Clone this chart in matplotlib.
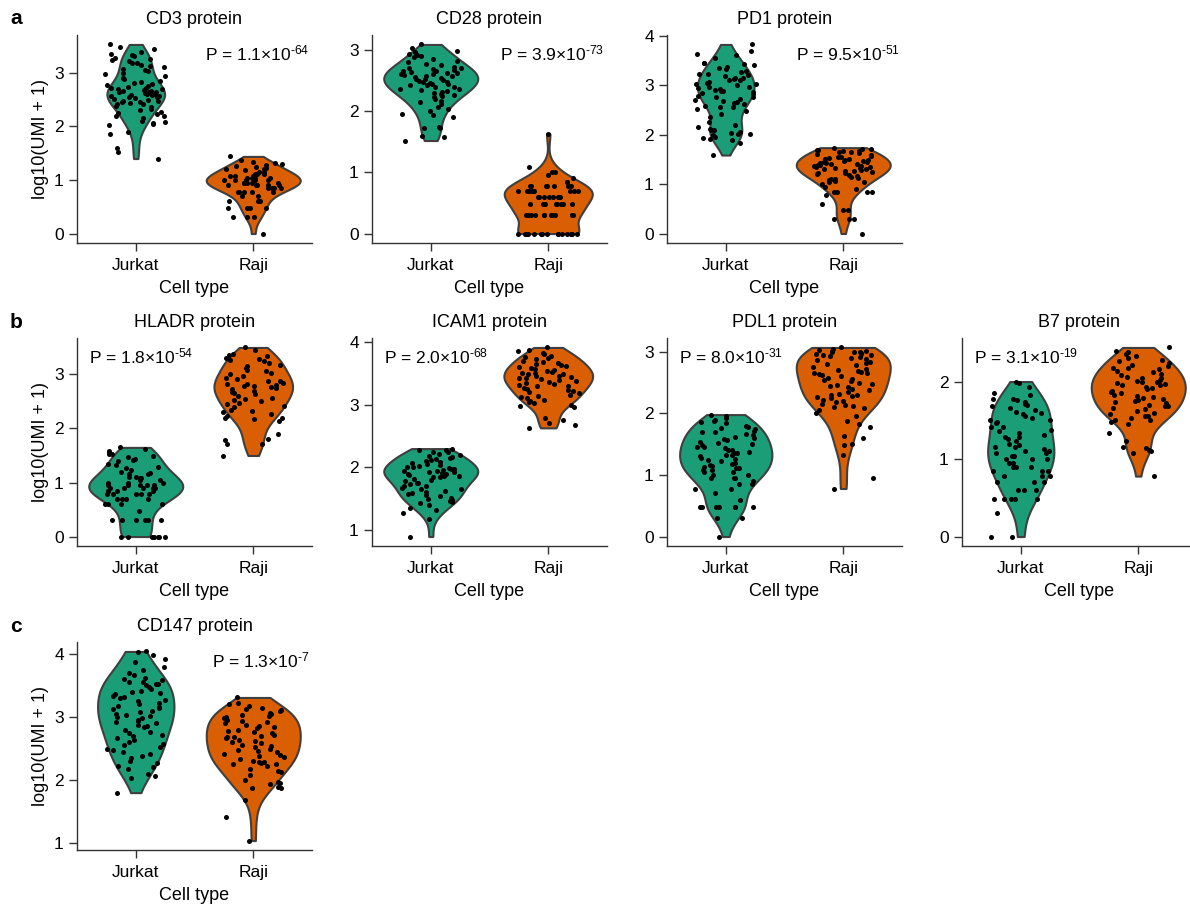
import numpy as np
import matplotlib.pyplot as plt
from matplotlib.ticker import MultipleLocator

plt.rcParams['font.family'] = ['Liberation Sans', 'DejaVu Sans']
plt.rcParams['mathtext.fontset'] = 'custom'
plt.rcParams['mathtext.rm'] = 'Liberation Sans'
plt.rcParams['mathtext.default'] = 'regular'
plt.rcParams['font.size'] = 12.5

cell_types = ['Jurkat', 'Raji']
colors = ['#1b9e77', '#d95f02']

# log10(UMI + 1) values, one list per protein / cell type
cd3_jurkat = [3.53, 3.48, 3.45, 3.38, 3.36, 3.33, 3.31, 3.28, 3.25, 3.24, 3.22, 3.19, 3.19,
              3.15, 3.13, 3.10, 3.08, 3.06, 3.03, 3.00, 2.97, 2.94, 2.91, 2.88, 2.85, 2.83,
              2.81, 2.80, 2.78, 2.76, 2.74, 2.72, 2.71, 2.70, 2.70, 2.68, 2.67, 2.66, 2.65,
              2.64, 2.64, 2.62, 2.61, 2.60, 2.59, 2.58, 2.57, 2.56, 2.55, 2.54, 2.53, 2.51,
              2.49, 2.48, 2.47, 2.45, 2.45, 2.43, 2.42, 2.41, 2.39, 2.36, 2.33, 2.30, 2.27,
              2.25, 2.23, 2.20, 2.19, 2.16, 2.11, 2.08, 2.06, 2.04, 2.02, 1.90, 1.85, 1.59,
              1.52, 1.40]
cd3_raji = [1.44, 1.38, 1.34, 1.32, 1.30, 1.28, 1.26, 1.25, 1.23, 1.20, 1.20, 1.18, 1.15,
            1.15, 1.11, 1.11, 1.11, 1.08, 1.08, 1.08, 1.04, 1.04, 1.04, 1.04, 1.00, 1.00,
            1.00, 1.00, 1.00, 1.00, 0.95, 0.95, 0.95, 0.95, 0.95, 0.90, 0.90, 0.90, 0.90,
            0.90, 0.85, 0.85, 0.85, 0.85, 0.78, 0.78, 0.78, 0.78, 0.78, 0.70, 0.70, 0.60,
            0.60, 0.60, 0.48, 0.48, 0.48, 0.48, 0.30, 0.30, 0.30, 0.00]

cd28_jurkat = [3.09, 3.04, 2.98, 2.96, 2.94, 2.92, 2.90, 2.88, 2.85, 2.82, 2.80, 2.77, 2.75,
               2.72, 2.71, 2.70, 2.69, 2.68, 2.66, 2.65, 2.64, 2.63, 2.62, 2.61, 2.60, 2.59,
               2.58, 2.57, 2.55, 2.54, 2.53, 2.52, 2.51, 2.50, 2.48, 2.47, 2.46, 2.45, 2.44,
               2.43, 2.42, 2.40, 2.39, 2.37, 2.36, 2.34, 2.33, 2.31, 2.30, 2.28, 2.26, 2.25,
               2.23, 2.20, 2.17, 2.15, 2.12, 2.06, 2.04, 2.01, 1.96, 1.93, 1.90, 1.74, 1.73,
               1.72, 1.60, 1.58, 1.52]
cd28_raji = [0.00] * 16 + [0.30] * 12 + [0.48] * 8 + [0.60] * 8 + [0.70] * 8 + \
            [0.78] * 7 + [0.85] * 2 + [0.90, 0.95, 1.00, 1.00, 1.08, 1.63]

pd1_jurkat = [3.83, 3.69, 3.64, 3.61, 3.56, 3.46, 3.45, 3.43, 3.41, 3.38, 3.36, 3.33, 3.30,
              3.28, 3.24, 3.23, 3.21, 3.20, 3.16, 3.15, 3.13, 3.11, 3.10, 3.06, 3.05, 3.03,
              3.02, 3.00, 2.97, 2.96, 2.95, 2.93, 2.91, 2.89, 2.88, 2.86, 2.85, 2.83, 2.79,
              2.77, 2.76, 2.73, 2.71, 2.69, 2.66, 2.64, 2.63, 2.59, 2.57, 2.56, 2.53, 2.49,
              2.43, 2.36, 2.26, 2.19, 2.16, 2.12, 2.10, 2.09, 2.06, 2.04, 2.02, 2.01,
              1.99, 1.96, 1.94, 1.92, 1.89, 1.84, 1.59]
pd1_raji = [1.74, 1.72, 1.71, 1.70, 1.70, 1.68, 1.67, 1.66, 1.65, 1.63, 1.62, 1.60, 1.58,
            1.56, 1.55, 1.53, 1.52, 1.50, 1.49, 1.48, 1.47, 1.46, 1.45, 1.44, 1.43, 1.42,
            1.41, 1.40, 1.39, 1.38, 1.37, 1.36, 1.35, 1.34, 1.33, 1.32, 1.31, 1.30, 1.28,
            1.27, 1.26, 1.25, 1.24, 1.23, 1.22, 1.20, 1.18, 1.16, 1.15, 1.13, 1.11, 1.10,
            1.08, 1.06, 1.04, 1.04, 1.00, 0.95, 0.90, 0.85, 0.85, 0.85, 0.85, 0.78, 0.60,
            0.48, 0.48, 0.30, 0.30, 0.30, 0.00]

hladr_jurkat = [1.65, 1.62, 1.59, 1.57, 1.53, 1.52, 1.50, 1.47, 1.44, 1.41, 1.40, 1.35,
                1.32, 1.29, 1.26, 1.23, 1.20, 1.18, 1.15, 1.15, 1.11, 1.11, 1.08, 1.08,
                1.04, 1.04, 1.00, 1.00, 1.00, 0.95, 0.95, 0.95, 0.95, 0.95, 0.90, 0.90,
                0.90, 0.90, 0.90, 0.85, 0.85, 0.85, 0.85, 0.78, 0.78, 0.78, 0.78, 0.78,
                0.70, 0.70, 0.70, 0.70, 0.60, 0.60, 0.60, 0.60, 0.48, 0.30, 0.30, 0.30,
                0.30, 0.30, 0.30, 0.00, 0.00, 0.00, 0.00, 0.00, 0.00, 0.00]
hladr_raji = [3.50, 3.46, 3.37, 3.36, 3.34, 3.31, 3.28, 3.27, 3.25, 3.22, 3.18, 3.15, 3.12,
              3.09, 3.06, 3.03, 3.00, 2.97, 2.94, 2.91, 2.88, 2.87, 2.85, 2.83, 2.82, 2.80,
              2.79, 2.78, 2.76, 2.75, 2.73, 2.69, 2.68, 2.66, 2.63, 2.60, 2.57, 2.54, 2.53,
              2.51, 2.48, 2.45, 2.42, 2.39, 2.34, 2.32, 2.30, 2.27, 2.24, 2.20, 2.19, 2.17,
              2.14, 1.90, 1.81, 1.78, 1.71, 1.71, 1.50]

icam1_jurkat = [2.30, 2.28, 2.27, 2.25, 2.24, 2.22, 2.20, 2.19, 2.17, 2.15, 2.13, 2.12,
                2.10, 2.08, 2.07, 2.05, 2.04, 2.02, 2.01, 2.00, 1.99, 1.98, 1.97, 1.96,
                1.95, 1.94, 1.93, 1.92, 1.91, 1.90, 1.89, 1.88, 1.87, 1.86, 1.85, 1.84,
                1.82, 1.80, 1.78, 1.76, 1.75, 1.73, 1.71, 1.70, 1.68, 1.66, 1.65, 1.63,
                1.61, 1.60, 1.58, 1.56, 1.54, 1.51, 1.49, 1.48, 1.47, 1.45, 1.43, 1.40,
                1.35, 1.32, 1.28, 1.18, 0.90]
icam1_raji = [3.91, 3.87, 3.85, 3.82, 3.80, 3.78, 3.76, 3.74, 3.72, 3.70, 3.68, 3.66, 3.65,
              3.63, 3.62, 3.60, 3.58, 3.57, 3.55, 3.54, 3.52, 3.51, 3.50, 3.49, 3.48, 3.46,
              3.45, 3.44, 3.43, 3.42, 3.40, 3.39, 3.38, 3.36, 3.35, 3.33, 3.32, 3.30, 3.29,
              3.27, 3.25, 3.24, 3.22, 3.20, 3.18, 3.16, 3.14, 3.12, 3.10, 3.08, 3.06, 3.04,
              3.02, 3.00, 2.98, 2.96, 2.78, 2.75, 2.70, 2.68, 2.63]

pdl1_jurkat = [1.98, 1.95, 1.92, 1.90, 1.88, 1.86, 1.84, 1.80, 1.78, 1.76, 1.74, 1.72,
               1.70, 1.69, 1.67, 1.65, 1.62, 1.60, 1.58, 1.56, 1.54, 1.52, 1.50, 1.48,
               1.46, 1.45, 1.43, 1.41, 1.40, 1.38, 1.36, 1.35, 1.33, 1.32, 1.30, 1.28,
               1.26, 1.24, 1.22, 1.20, 1.18, 1.16, 1.15, 1.13, 1.11, 1.11, 1.08, 1.08,
               1.04, 1.04, 1.00, 1.00, 0.95, 0.95, 0.95, 0.90, 0.85, 0.85, 0.78, 0.78,
               0.70, 0.60, 0.48, 0.48, 0.48, 0.48, 0.48, 0.48, 0.48, 0.30, 0.30, 0.00]
pdl1_raji = [3.07, 3.05, 3.03, 3.02, 3.01, 3.00, 3.00, 2.99, 2.98, 2.97, 2.96, 2.95, 2.94,
             2.93, 2.92, 2.90, 2.88, 2.86, 2.84, 2.82, 2.80, 2.78, 2.75, 2.72, 2.70, 2.68,
             2.67, 2.66, 2.65, 2.64, 2.62, 2.60, 2.58, 2.56, 2.54, 2.52, 2.50, 2.48, 2.46,
             2.44, 2.42, 2.40, 2.38, 2.35, 2.32, 2.30, 2.29, 2.28, 2.27, 2.25, 2.22, 2.20,
             2.18, 2.16, 2.14, 2.12, 2.10, 2.08, 2.05, 2.00, 1.95, 1.88, 1.82, 1.78, 1.63,
             1.60, 1.50, 1.48, 1.32, 0.95, 0.78]

b7_jurkat = [2.00, 1.98, 1.93, 1.85, 1.83, 1.78, 1.78, 1.76, 1.73, 1.71, 1.70, 1.68, 1.66,
             1.63, 1.61, 1.60, 1.58, 1.56, 1.53, 1.51, 1.50, 1.48, 1.46, 1.42, 1.41, 1.38,
             1.36, 1.33, 1.31, 1.28, 1.28, 1.26, 1.23, 1.20, 1.18, 1.16, 1.15, 1.13, 1.11,
             1.11, 1.08, 1.08, 1.04, 1.04, 1.00, 1.00, 1.00, 0.95, 0.95, 0.90, 0.90, 0.90,
             0.85, 0.85, 0.85, 0.78, 0.78, 0.78, 0.70, 0.70, 0.70, 0.60, 0.60, 0.60, 0.48,
             0.48, 0.48, 0.48, 0.48, 0.30, 0.00, 0.00]
b7_raji = [2.44, 2.40, 2.38, 2.36, 2.33, 2.30, 2.28, 2.26, 2.24, 2.22, 2.20, 2.18, 2.17,
           2.16, 2.14, 2.12, 2.10, 2.08, 2.06, 2.05, 2.04, 2.02, 2.01, 2.00, 1.99, 1.98,
           1.97, 1.96, 1.95, 1.93, 1.92, 1.90, 1.88, 1.86, 1.85, 1.83, 1.81, 1.80, 1.79,
           1.77, 1.76, 1.75, 1.74, 1.72, 1.70, 1.69, 1.68, 1.66, 1.64, 1.62, 1.60, 1.58,
           1.56, 1.55, 1.53, 1.51, 1.50, 1.48, 1.45, 1.34, 1.23, 1.15, 1.14, 1.12, 1.11,
           1.08, 0.78]

cd147_jurkat = [4.04, 4.03, 3.98, 3.92, 3.88, 3.80, 3.74, 3.70, 3.66, 3.62, 3.60, 3.58,
                3.56, 3.55, 3.53, 3.52, 3.50, 3.48, 3.45, 3.42, 3.40, 3.38, 3.36, 3.34,
                3.32, 3.30, 3.27, 3.25, 3.23, 3.20, 3.18, 3.16, 3.15, 3.13, 3.10, 3.08,
                3.05, 3.03, 3.01, 3.00, 2.98, 2.96, 2.94, 2.92, 2.90, 2.88, 2.86, 2.84,
                2.80, 2.77, 2.74, 2.72, 2.70, 2.67, 2.64, 2.60, 2.57, 2.55, 2.52, 2.50,
                2.47, 2.45, 2.42, 2.38, 2.35, 2.30, 2.27, 2.22, 2.20, 2.18, 2.10, 2.06,
                2.04, 1.80]
cd147_raji = [3.31, 3.22, 3.20, 3.18, 3.14, 3.12, 3.11, 3.09, 3.07, 3.05, 3.03, 3.01, 3.00,
              2.98, 2.96, 2.94, 2.92, 2.90, 2.88, 2.86, 2.84, 2.82, 2.80, 2.78, 2.76, 2.74,
              2.72, 2.70, 2.69, 2.68, 2.66, 2.64, 2.62, 2.60, 2.58, 2.56, 2.54, 2.52, 2.50,
              2.48, 2.46, 2.44, 2.42, 2.40, 2.38, 2.36, 2.33, 2.30, 2.29, 2.28, 2.27, 2.26,
              2.25, 2.22, 2.18, 2.15, 2.12, 2.08, 2.00, 1.97, 1.95, 1.94, 1.89, 1.88, 1.87,
              1.68, 1.42, 1.04]

titles = ['CD3 protein', 'CD28 protein', 'PD1 protein', 'HLADR protein',
          'ICAM1 protein', 'PDL1 protein', 'B7 protein', 'CD147 protein']
p_mantissa = ['1.1', '3.9', '9.5', '1.8', '2.0', '8.0', '3.1', '1.3']
p_exponent = ['64', '73', '51', '54', '68', '31', '19', '7']

panel_data = [(cd3_jurkat, cd3_raji), (cd28_jurkat, cd28_raji), (pd1_jurkat, pd1_raji),
              (hladr_jurkat, hladr_raji), (icam1_jurkat, icam1_raji),
              (pdl1_jurkat, pdl1_raji), (b7_jurkat, b7_raji), (cd147_jurkat, cd147_raji)]

# grid position of each panel (row, col)
grid_pos = [(0, 0), (0, 1), (0, 2), (1, 0), (1, 1), (1, 2), (1, 3), (2, 0)]


def kde(vals, grid):
    # gaussian kde, scott bandwidth (same as scipy / seaborn)
    v = np.asarray(vals, dtype=float)
    bw = v.std(ddof=1) * len(v) ** (-0.2)
    z = (grid[:, None] - v[None, :]) / bw
    return np.exp(-0.5 * z ** 2).sum(axis=1) / (len(v) * bw * np.sqrt(2 * np.pi))


W, H = 1190, 907
fig = plt.figure(figsize=(W / 100, H / 100), dpi=100)

col_x = [77, 372, 667, 962]
row_top = [35, 338, 642]
ax_w, ax_h = 235, 208

rng = np.random.default_rng(3)  # strip-plot jitter only

for k, (title, data) in enumerate(zip(titles, panel_data)):
    r, c = grid_pos[k]
    ax = fig.add_axes([col_x[c] / W, 1 - (row_top[r] + ax_h) / H, ax_w / W, ax_h / H])

    grids, dens = [], []
    for vals in data:
        g = np.linspace(min(vals), max(vals), 200)
        grids.append(g)
        dens.append(kde(vals, g))
    peak = max(d.max() for d in dens)

    for i, vals in enumerate(data):
        half = 0.4 * dens[i] / peak
        ax.fill_betweenx(grids[i], i - half, i + half, facecolor=colors[i],
                         edgecolor='#3f3f3f', linewidth=1.5, zorder=2)
        jit = rng.uniform(-0.26, 0.26, len(vals))
        ax.scatter(i + jit, vals, s=13, c='black', linewidths=0, zorder=3)

    ax.set_xlim(-0.5, 1.5)
    ax.margins(y=0.05)
    ax.set_xticks([0, 1])
    ax.set_xticklabels(cell_types)
    ax.yaxis.set_major_locator(MultipleLocator(1))
    ax.set_xlabel('Cell type', fontsize=13, labelpad=5)
    if c == 0:
        ax.set_ylabel('log10(UMI + 1)', fontsize=13)
    ax.set_title(title, fontsize=13, pad=8)
    for s in ['top', 'right']:
        ax.spines[s].set_visible(False)
    for s in ['left', 'bottom']:
        ax.spines[s].set_color('#333333')
        ax.spines[s].set_linewidth(1)
    ax.tick_params(direction='out', length=6, width=1, color='#333333')
    ax.tick_params(axis='x', pad=5)

    ptxt = 'P = %s×10$^{\u2010%s}$' % (p_mantissa[k], p_exponent[k])
    # p-value goes on the side of the lower group
    if np.median(data[1]) > np.median(data[0]):
        ax.text(0.05, 0.91, ptxt, transform=ax.transAxes, ha='left', va='center')
    else:
        ax.text(0.99, 0.91, ptxt, transform=ax.transAxes, ha='right', va='center')

for lab, yp in zip(['a', 'b', 'c'], [18, 322, 627]):
    fig.text(10 / W, 1 - yp / H, lab, fontsize=15, fontweight='bold', va='center')

fig.savefig('out.png', dpi=100)
